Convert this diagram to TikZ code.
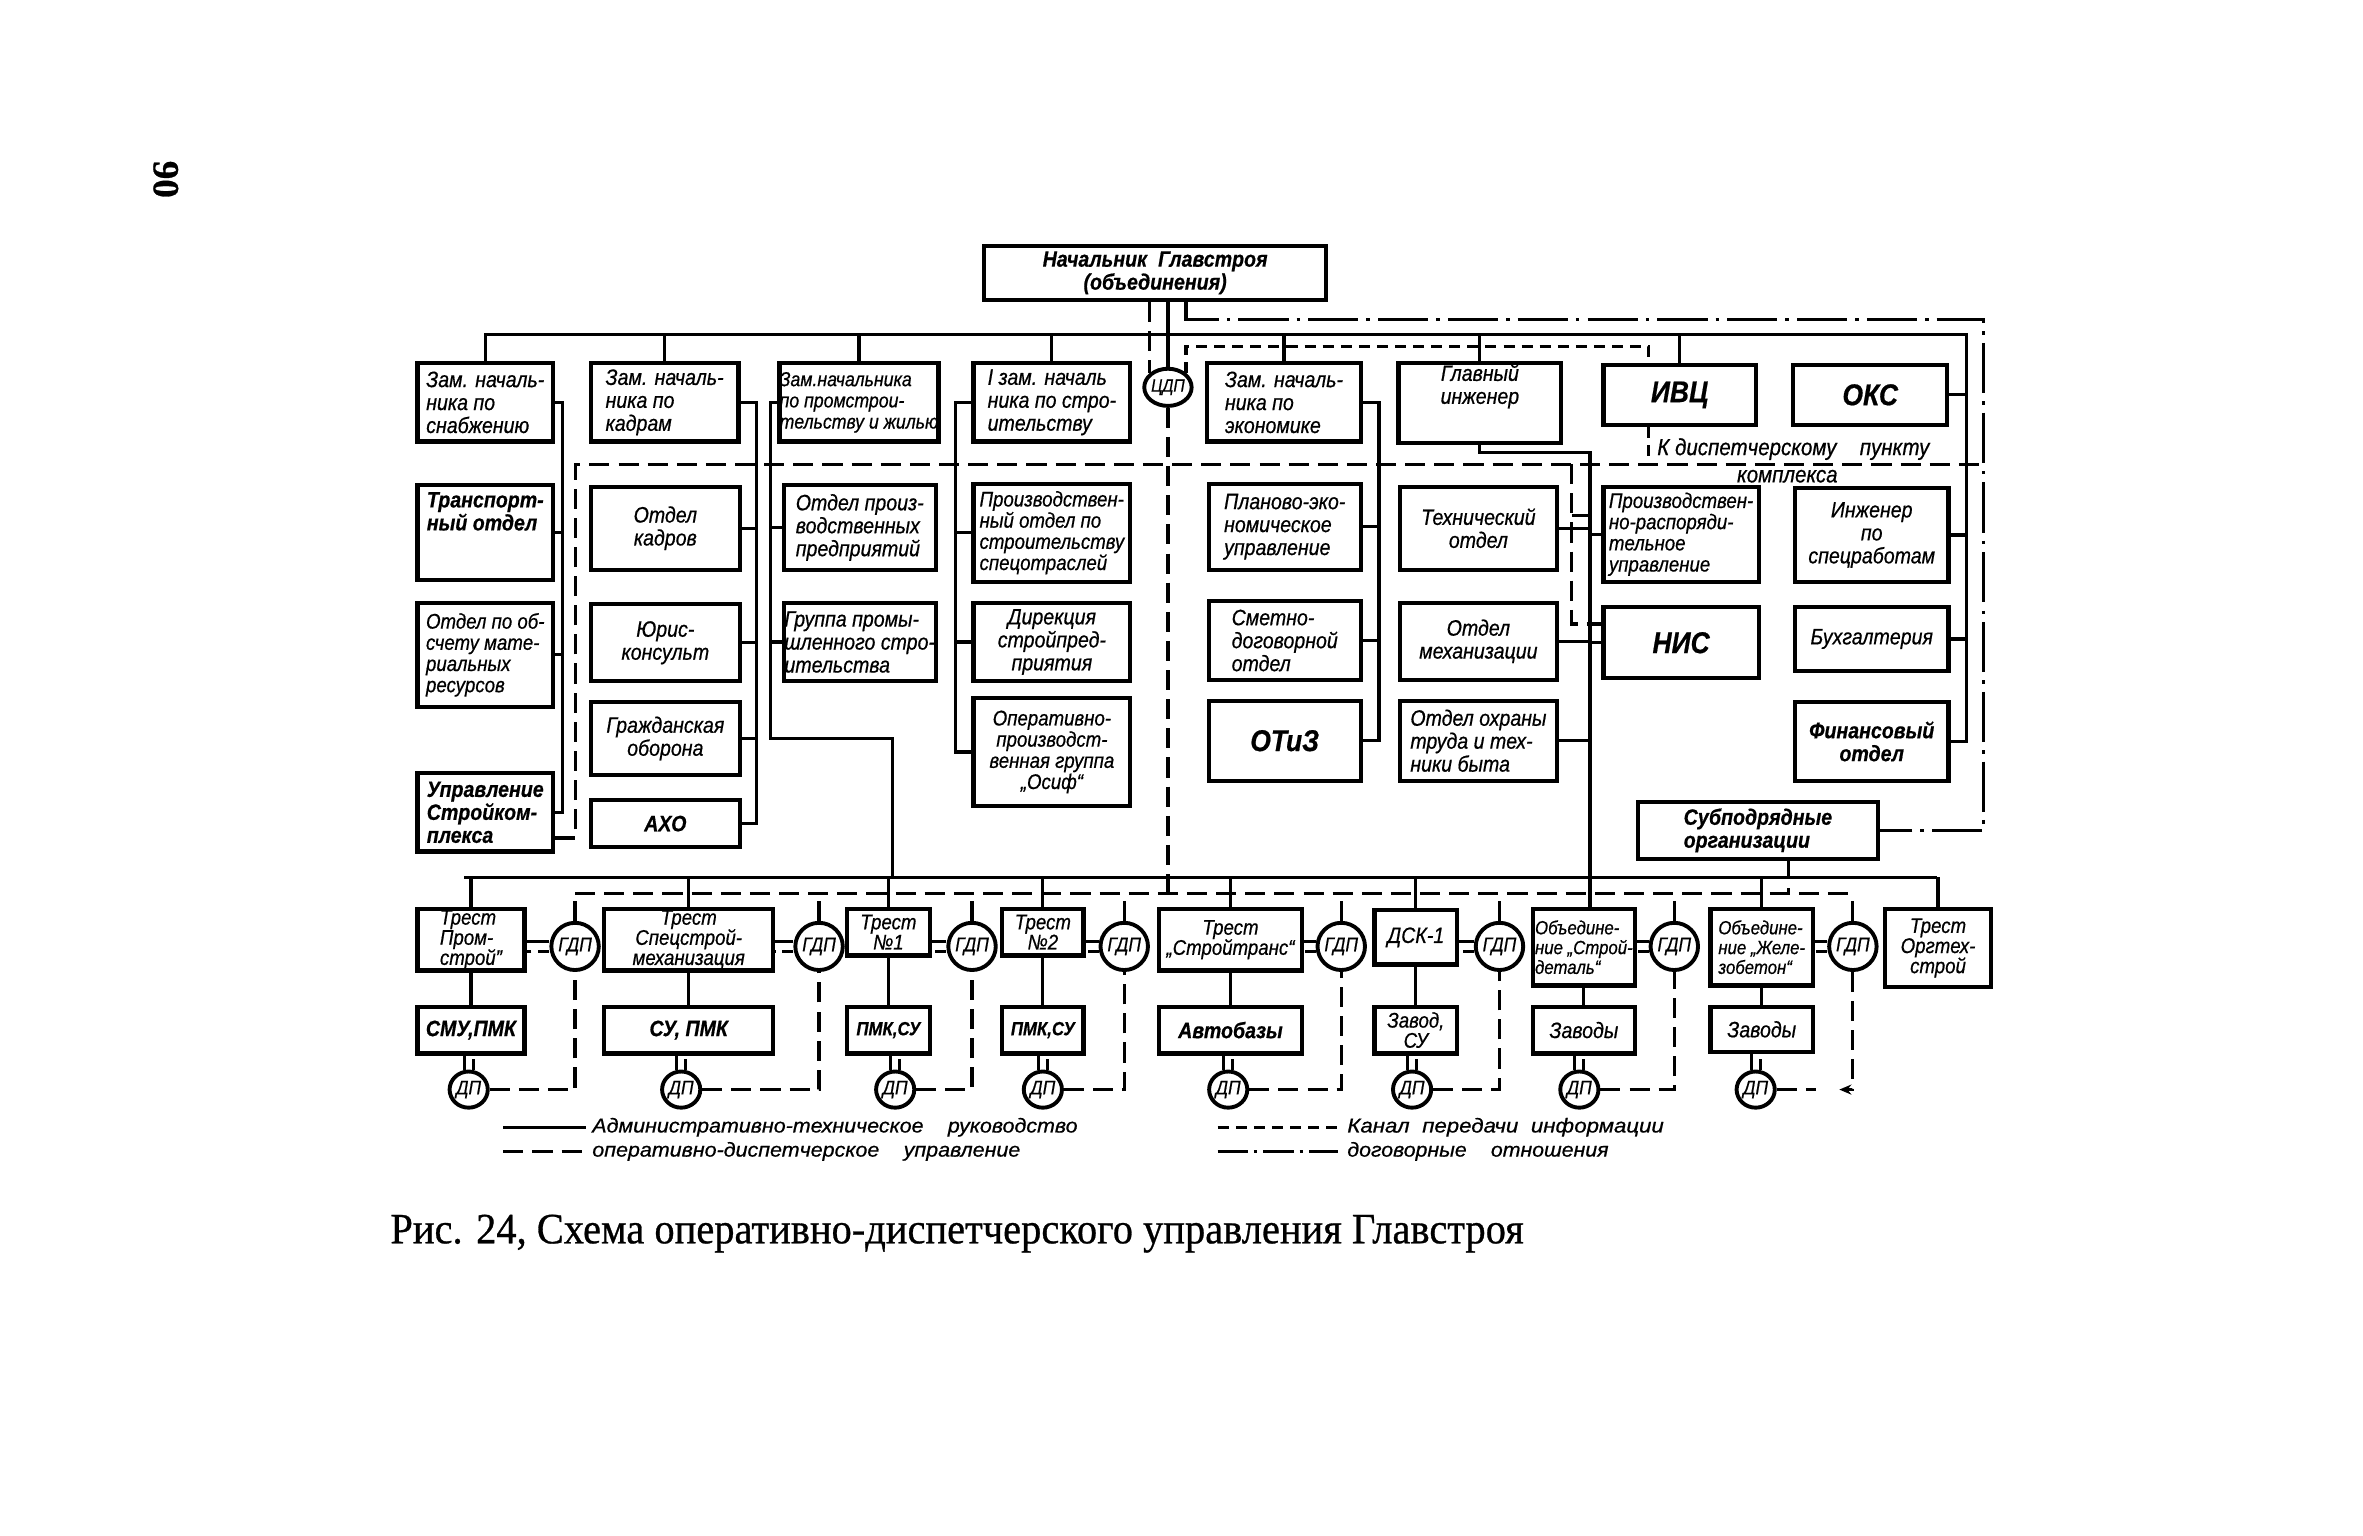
\documentclass[tikz,border=0pt]{standalone}
\usepackage{fontspec}
\setmainfont{Liberation Serif}
\newfontfamily\gost[FakeStretch=0.88,FakeBold=0.6]{Liberation Sans}
\newfontfamily\capfont[FakeBold=0.7]{Liberation Serif}
\usetikzlibrary{shapes.geometric,arrows.meta}
\newcommand\bx[7][]{\node[bxs,#1,minimum width={(#5-#3)*0.15mm},minimum height={(#6-#4)*0.15mm}] (#2) at ({(#3+#5)/2},{(#4+#6)/2}) {#7};}
\begin{document}
\begin{tikzpicture}[x=0.15mm,y=-0.15mm,line width=0.9pt,
 bxs/.style={draw,line width=1.2pt,inner sep=0pt,align=center,font=\gost\itshape\fontsize{6.3}{6.5}\selectfont},
 lft/.style={align=left},
 md/.style={font=\gost\itshape\fontsize{6.0}{6.0}\selectfont},
 ts/.style={font=\gost\itshape\fontsize{6.0}{5.7}\selectfont},
 sm/.style={font=\gost\itshape\fontsize{5.4}{5.6}\selectfont},
 bd/.style={font=\gost\itshape\bfseries\fontsize{6.3}{6.5}\selectfont},
 bg/.style={font=\gost\itshape\bfseries\fontsize{8.5}{9}\selectfont},
 ring/.style={draw,ellipse,line width=1.1pt,inner sep=0pt,font=\gost\itshape\fontsize{5.6}{6}\selectfont},
 gdp/.style={ring,minimum width=4.1mm,minimum height=4.7mm},
 dpc/.style={ring,minimum width=3.8mm,minimum height=3.6mm},
 od/.style={dash pattern=on 2mm off 0.9mm},
 ic/.style={dash pattern=on 1.1mm off 0.7mm},
 dd/.style={dash pattern=on 5mm off 0.8mm on 0.35mm off 0.8mm},
 lg/.style={inner sep=0pt,anchor=west}
]
\fill[white] (0,0) rectangle (1568,1019);
\useasboundingbox (0,0) rectangle (1568,1019);

% page number
\node[rotate=-90,font=\capfont\bfseries\fontsize{10.5}{10.5}\selectfont] (pg) at (110,119) {90};

% ---------- boxes ----------
\bx[bd]{nach}{653}{163}{880}{199}{Начальник\enspace Главстроя\\(объединения)}
\bx[lft]{z1}{277}{241}{367}{293}{Зам. началь-\\ника по\\снабжению}
\bx[lft]{z2}{392}{241}{490}{293}{Зам. началь-\\ника по\\кадрам}
\bx[lft,font=\gost\itshape\fontsize{5.7}{6.0}\selectfont]{z3}{519}{241}{621}{293}{Зам.начальника\\по промстрои-\\тельству и жилью}
\bx[lft]{z4}{646}{241}{750}{293}{I зам. началь\\ника по стро-\\ительству}
\bx[lft]{z5}{801}{241}{903}{293}{Зам. началь-\\ника по\\экономике}
\bx{gi}{928}{241}{1036}{294}{Главный\\инженер\\[1.5mm]}
\bx[bg]{ivc}{1064}{242}{1165}{282}{ИВЦ}
\bx[bg]{oks}{1190}{242}{1292}{282}{ОКС}
\node[dpc,minimum width=3.9mm,minimum height=3.7mm,font=\gost\itshape\fontsize{5}{5}\selectfont] (cdp) at (775,257) {ЦДП};

\bx[bd,lft]{tr}{277}{322}{367}{385}{Транспорт-\\ный отдел\\[2mm]}
\bx{ok}{392}{323}{491}{378}{Отдел\\кадров}
\bx[lft]{opp}{520}{322}{621}{378}{Отдел произ-\\водственных\\предприятий}
\bx[md,lft]{pos}{646}{321}{750}{386}{Производствен-\\ный отдел по\\строительству\\спецотраслей}
\bx[lft]{peu}{802}{321}{903}{378}{Планово-эко-\\номическое\\управление}
\bx{to}{929}{323}{1033}{378}{Технический\\отдел}
\bx[md,lft]{pru}{1064}{323}{1167}{386}{Производствен-\\но-распоряди-\\тельное\\управление}
\bx{ins}{1191}{324}{1293}{386}{Инженер\\по\\спецработам}

\bx[md,lft]{oo}{277}{400}{367}{469}{Отдел по об-\\счету мате-\\риальных\\ресурсов}
\bx{yk}{392}{401}{491}{452}{Юрис-\\консульт}
\bx[lft]{gps}{520}{400}{621}{452}{Группа промы-\\шленного стро-\\ительства}
\bx{dir}{646}{400}{750}{452}{Дирекция\\стройпред-\\приятия}
\bx[lft]{sdo}{802}{399}{903}{451}{Сметно-\\договорной\\отдел}
\bx{om}{929}{400}{1033}{451}{Отдел\\механизации}
\bx[bg]{nis}{1064}{403}{1167}{450}{НИС}
\bx{buh}{1191}{403}{1293}{445}{Бухгалтерия}

\bx{go}{392}{466}{491}{514}{Гражданская\\оборона}
\bx[md]{opg}{646}{463}{750}{535}{Оперативно-\\производст-\\венная группа\\„Осиф“}
\bx[bg]{otiz}{802}{465}{903}{518}{ОТиЗ}
\bx[lft]{oht}{929}{465}{1033}{518}{Отдел охраны\\труда и тех-\\ники быта}
\bx[bd]{fin}{1191}{466}{1293}{518}{Финансовый\\отдел}

\bx[bd,lft]{usk}{277}{513}{367}{565}{Управление\\Стройком-\\плекса}
\bx[bd]{aho}{392}{531}{491}{562}{АХО}
\bx[bd,lft]{sub}{1087}{532}{1246}{570}{Субподрядные\\организации}

% trusts
\bx[ts,lft]{t1}{277}{603}{348}{644}{Трест\\Пром-\\строй”}
\bx[ts]{t2}{401}{603}{513}{644}{Трест\\Спецстрой-\\механизация}
\bx[ts]{t3}{562}{603}{617}{634}{Трест\\№1}
\bx[ts]{t4}{665}{603}{719}{634}{Трест\\№2}
\bx[ts]{t5}{769}{603}{864}{644}{Трест\\„Стройтранс“}
\bx{t6}{912}{604}{967}{640}{ДСК-1}
\bx[sm,lft]{t7}{1017}{603}{1085}{654}{Объедине-\\ние „Строй-\\деталь“}
\bx[sm,lft]{t8}{1135}{603}{1203}{654}{Объедине-\\ние „Желе-\\зобетон“}
\bx[ts]{t9}{1251}{603}{1321}{655}{Трест\\Оргтех-\\строй}

\bx[bd]{u1}{277}{668}{348}{699}{СМУ,ПМК}
\bx[bd]{u2}{401}{668}{513}{699}{СУ, ПМК}
\bx[sm]{u3}{562}{668}{617}{699}{\bfseries ПМК,СУ}
\bx[sm]{u4}{665}{668}{719}{699}{\bfseries ПМК,СУ}
\bx[bd]{u5}{769}{668}{864}{699}{Автобазы}
\bx[ts]{u6}{912}{668}{967}{699}{Завод,\\СУ}
\bx{u7}{1017}{668}{1085}{699}{Заводы}
\bx{u8}{1135}{668}{1203}{698}{Заводы}

\foreach \i/\x in {1/381.6,2/543.5,3/645,4/746,5/890,6/995,7/1111,8/1229.5}
  \node[gdp] (g\i) at (\x,628) {ГДП};
\foreach \i/\x in {1/311,2/452,3/594,4/692,5/815,6/937,7/1048,8/1165}
  \node[dpc] (d\i) at (\x,723) {ДП};

% ---------- solid lines ----------
\coordinate (busL) at (322,222);
\coordinate (busR) at (1305,222);
\draw (z1.north) -- (busL) -- (busR) -- (busR |- fin.east) -- (fin.east);
\foreach \n in {z2,z3,z4,z5,gi,ivc} \draw (\n.north) -- (\n.north |- busL);
\foreach \n in {oks,ins,buh} \draw (\n.east) -- (\n.east -| busR);
\draw (nach.south -| cdp.north) -- (cdp.north);

\coordinate (sp1) at (373,264);
\draw (z1.east) -- (z1.east -| sp1) -- (sp1 |- usk.east) -- (usk.east);
\foreach \n in {tr,oo} \draw (\n.east) -- (\n.east -| sp1);

\coordinate (sp2) at (502,264);
\draw (z2.east) -- (z2.east -| sp2) -- (sp2 |- aho.east) -- (aho.east);
\foreach \n in {ok,yk,go} \draw (\n.east) -- (\n.east -| sp2);

\coordinate (tbL) at (308,582);
\coordinate (tbR) at (1285,582);
\coordinate (sp3) at (511,264);
\coordinate (sp3b) at (592,490);
\draw (z3.west) -- (z3.west -| sp3) -- (sp3 |- sp3b) -- (sp3b) -- (sp3b |- tbL);
\foreach \n in {opp,gps} \draw (\n.west) -- (\n.west -| sp3);

\coordinate (sp4) at (634,264);
\draw (z4.west) -- (z4.west -| sp4) -- (sp4 |- opg.west) -- (opg.west);
\foreach \n in {pos,dir} \draw (\n.west) -- (\n.west -| sp4);

\coordinate (sp5) at (915,264);
\draw (z5.east) -- (z5.east -| sp5) -- (sp5 |- otiz.east) -- (otiz.east);
\foreach \n in {peu,sdo} \draw (\n.east) -- (\n.east -| sp5);

\coordinate (sp6) at (1055,300);
\draw (gi.south) -- (gi.south |- sp6) -- (sp6) -- (sp6 |- t7.north);
\foreach \n in {to,om,oht} \draw (\n.east) -- (\n.east -| sp6);
\foreach \n in {pru,nis} \draw (\n.west) -- (\n.west -| sp6);

\draw (tbL) -- (tbR);
\foreach \n in {t1,t2,t3,t4,t5,t6,t8,t9} \draw (\n.north) -- (\n.north |- tbL);
\foreach \i in {1,...,8} \draw (t\i.south) -- (u\i.north);

% double links
\foreach \i in {1,...,8} {
  \draw ([xshift=-0.45mm]d\i.north) -- ([xshift=-0.45mm]d\i.north |- u\i.south);
  \draw[ic] ([xshift=0.45mm]d\i.north) -- ([xshift=0.45mm]d\i.north |- u\i.south);
  \draw ([yshift=0.5mm]g\i.west) -- ([yshift=0.5mm]g\i.west -| t\i.east);
  \draw[ic] ([yshift=-0.5mm]g\i.west) -- ([yshift=-0.5mm]g\i.west -| t\i.east);
}

% ---------- dashed (operative) ----------
\coordinate (dbL) at (381.6,593);
\draw[od] (g1.north |- dbL) -- (g8.north |- dbL);
\foreach \i in {1,...,8} \draw[od] (g\i.north) -- (g\i.north |- dbL);
\foreach \i in {1,...,7} \draw[od] (d\i.east) -- (d\i.east -| g\i.south) -- (g\i.south);
\coordinate (d8e) at (1205,723);
\draw[od] (d8.east) -- (d8e);
\draw[od,-{Stealth[length=1.2mm,width=1mm]}] (g8.south) -- (g8.south |- d8e) -- ++(-9,0);

\draw[od] (cdp.north west |- nach.south) -- (cdp.north west);
\draw[od] (cdp.south) -- (cdp.south |- dbL);

\coordinate (bdL) at (382,308);
\coordinate (bdR) at (1316,308);
\coordinate (uskc) at (382,556);
\draw[od] (uskc -| usk.east) -- (uskc) -- (bdL) -- (bdR);
\coordinate (v1) at (1043,308);
\coordinate (v2) at (1043,342);
\coordinate (v3) at (1043,414);
\draw[od] (v1) -- (v3) -- (v3 -| nis.west);
\draw[od] (v2) -- (v2 -| pru.west);
\coordinate (sbx) at (1187,570);
\draw[od] (sbx) -- (sbx |- dbL);

% ---------- info channel ----------
\coordinate (ic1) at (1094,230);
\draw[ic] (cdp.north east) -- (cdp.north east |- ic1) -- (ic1) -- (ic1 |- ivc.north);
\draw[ic] (ic1 |- ivc.south) -- (ic1 |- bdL);

% ---------- contract (dash-dot) ----------
\coordinate (dd1) at (787,212);
\coordinate (dd2) at (1316,212);
\draw[dd] (dd1 |- nach.south) -- (dd1) -- (dd2) -- (dd2 |- sub.east) -- (sub.east);

% label
\node[font=\gost\itshape\fontsize{6.6}{7}\selectfont] (kdp) at (1190,298) {К диспетчерскому\quad пункту};
\node[font=\gost\itshape\fontsize{6.6}{7}\selectfont] (kmp) at (1186,316) {комплекса};

% ---------- legend ----------
\coordinate (la1) at (334,748); \coordinate (la2) at (389,748);
\coordinate (lb1) at (334,764); \coordinate (lb2) at (389,764);
\coordinate (lc1) at (808,748); \coordinate (lc2) at (888,748);
\coordinate (le1) at (808,764); \coordinate (le2) at (888,764);
\draw (la1) -- (la2);
\draw[od] (lb1) -- (lb2);
\draw[ic] (lc1) -- (lc2);
\draw[dd,dash pattern=on 3mm off 0.6mm on 0.35mm off 0.6mm] (le1) -- (le2);
\node[lg] (lt1) at (392,748) {\resizebox{48.3mm}{1.45mm}{\gost\itshape Административно-техническое\quad руководство}};
\node[lg] (lt2) at (392,764) {\resizebox{42.6mm}{1.45mm}{\gost\itshape\vphantom{Д}оперативно-диспетчерское\quad управление}};
\node[lg] (lt3) at (893,748) {\resizebox{31.5mm}{1.45mm}{\gost\itshape Канал\enspace передачи\enspace информации}};
\node[lg] (lt4) at (893,764) {\resizebox{26mm}{1.45mm}{\gost\itshape\vphantom{Д}договорные\quad отношения}};

% caption
\node[anchor=base west,inner sep=0pt] (cap) at (258,825) {\resizebox{112.8mm}{2.85mm}{\capfont Рис. 24, Схема оперативно-диспетчерского управления Главстроя}};
\end{tikzpicture}
\end{document}
